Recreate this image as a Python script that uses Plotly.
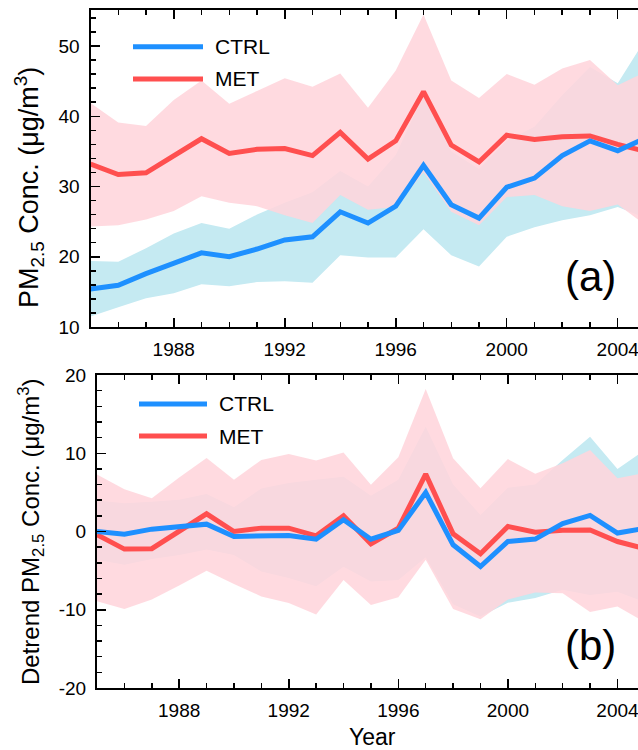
import plotly.graph_objects as go

years = list(range(1985, 2006))

# Panel (a): PM2.5 concentration
ctrl = [15.4, 15.95, 17.6, 19.15, 20.55, 20.0, 21.1, 22.4, 22.85, 26.4, 24.8,
        27.2, 33.0, 27.4, 25.5, 29.9, 31.2, 34.4, 36.5, 35.1, 36.9]
ctrl_up = [19.4, 19.3, 21.2, 23.3, 24.8, 24.0, 26.0, 27.7, 29.2, 32.2, 30.0,
           34.5, 43.0, 35.0, 32.5, 36.5, 38.5, 43.0, 47.0, 44.7, 51.0]
ctrl_lo = [11.5, 12.8, 14.1, 14.8, 16.1, 15.8, 16.4, 16.5, 16.3, 20.2, 19.9,
           19.9, 23.9, 20.2, 18.6, 22.85, 24.2, 25.2, 25.9, 27.1, 25.5]
met = [33.2, 31.7, 31.95, 34.4, 36.8, 34.7, 35.3, 35.4, 34.4, 37.7, 33.9,
       36.5, 43.5, 35.9, 33.5, 37.3, 36.7, 37.1, 37.2, 36.0, 35.0]
met_up = [41.9, 39.1, 38.6, 42.3, 45.1, 41.8, 43.6, 45.4, 44.2, 46.1, 41.2,
          46.5, 54.5, 45.1, 42.6, 46.0, 44.5, 46.8, 48.0, 44.4, 46.3]
met_lo = [24.3, 24.5, 25.3, 26.5, 28.6, 27.7, 27.2, 25.9, 24.8, 28.8, 26.7,
          27.1, 32.0, 26.4, 24.5, 28.5, 28.8, 27.2, 26.5, 27.45, 24.5]

# Panel (b): detrended PM2.5 concentration
ctrl_d = [0.0, -0.35, 0.3, 0.64, 0.94, -0.64, -0.64, -0.5, -0.98, 1.5, -0.98,
          0.13, 4.98, -1.7, -4.47, -1.28, -0.97, 1.0, 2.05, -0.2, 0.4]
ctrl_d_up = [3.96, 3.6, 3.8, 4.05, 4.8, 3.1, 5.5, 6.2, 6.6, 7.0, 4.56,
             6.6, 13.4, 6.0, 2.1, 5.6, 6.0, 9.15, 12.1, 8.0, 10.4]
ctrl_d_lo = [-3.6, -4.25, -3.5, -3.0, -2.3, -3.0, -5.1, -5.95, -7.0, -4.5, -6.4,
             -6.2, -3.3, -9.3, -10.85, -9.1, -8.5, -7.45, -8.1, -7.7, -9.0]
met_d = [-0.4, -2.25, -2.2, 0.0, 2.26, 0.0, 0.43, 0.43, -0.55, 2.0, -1.57,
         0.43, 7.33, -0.3, -2.85, 0.64, -0.08, 0.15, 0.2, -1.28, -2.2]
met_d_up = [7.3, 5.4, 4.26, 6.9, 9.4, 6.6, 9.15, 9.9, 9.07, 10.1, 5.96,
            9.5, 18.2, 9.37, 5.54, 9.25, 7.37, 8.73, 10.4, 6.8, 7.5]
met_d_lo = [-8.9, -9.9, -8.7, -6.9, -5.0, -6.7, -8.3, -9.15, -10.6, -6.2, -9.4,
            -8.4, -3.6, -9.9, -11.2, -8.7, -7.8, -7.9, -10.3, -9.6, -11.6]

series_names = ["CTRL", "MET"]
xtick_vals = [1988, 1992, 1996, 2000, 2004]
ya_tick_vals = [10, 20, 30, 40, 50]
ya_tick_text = ["10", "20", "30", "40", "50"]
yb_tick_vals = [-20, -10, 0, 10, 20]
yb_tick_text = ["-20", "-10", "0", "10", "20"]

W, H = 638, 750
BLUE = "#1E90FF"
RED = "#FF4F4F"
CYAN_FILL = "rgb(197,234,242)"
PINK_FILL = "rgba(255,212,219,0.87)"
FONT = "Liberation Sans, Arial, Helvetica, sans-serif"

fig = go.Figure()


def band(xa, ya, up, lo, color):
    fig.add_trace(go.Scatter(
        x=years + years[::-1], y=up + lo[::-1], fill="toself",
        fillcolor=color, line=dict(width=0), mode="lines",
        hoverinfo="skip", showlegend=False, xaxis=xa, yaxis=ya))


def line(xa, ya, vals, color, name):
    fig.add_trace(go.Scatter(
        x=years, y=vals, mode="lines", name=name,
        line=dict(color=color, width=5), showlegend=False,
        xaxis=xa, yaxis=ya))


# panel a
band("x", "y", ctrl_up, ctrl_lo, CYAN_FILL)
band("x", "y", met_up, met_lo, PINK_FILL)
line("x", "y", met, RED, series_names[1])
line("x", "y", ctrl, BLUE, series_names[0])
# panel b
band("x2", "y2", ctrl_d_up, ctrl_d_lo, CYAN_FILL)
band("x2", "y2", met_d_up, met_d_lo, PINK_FILL)
line("x2", "y2", met_d, RED, series_names[1])
line("x2", "y2", ctrl_d, BLUE, series_names[0])

tickfont = dict(family=FONT, size=19, color="black")


def xax(domain, rng, anchor):
    return dict(domain=domain, range=rng, anchor=anchor, showline=True,
                linecolor="black", linewidth=2, mirror="ticks",
                ticks="inside", ticklen=9, tickwidth=1.5, tickcolor="black",
                tickvals=xtick_vals, tickfont=tickfont, showgrid=False,
                zeroline=False, automargin=False, ticklabelstandoff=4,
                ticklabeloverflow="allow",
                minor=dict(dtick=1, tick0=1985, ticks="inside", ticklen=5,
                           tickwidth=1.5, tickcolor="black", showgrid=False))


def yax(domain, rng, anchor, tv, tt):
    return dict(domain=domain, range=rng, anchor=anchor, showline=True,
                linecolor="black", linewidth=2, mirror=False,
                ticks="inside", ticklen=9, tickwidth=1.5, tickcolor="black",
                tickvals=tv, ticktext=tt, tickfont=tickfont, showgrid=False,
                zeroline=False, automargin=False, ticklabelstandoff=5,
                ticklabeloverflow="allow",
                minor=dict(dtick=2, tick0=0, ticks="inside", ticklen=5,
                           tickwidth=1.5, tickcolor="black", showgrid=False))


def yright(domain, rng, anchor, over, tv):
    return dict(domain=domain, range=rng, anchor=anchor, overlaying=over,
                side="right", showline=False, ticks="inside", ticklen=9,
                tickwidth=1.5, tickcolor="black", tickvals=tv,
                showticklabels=False, showgrid=False, zeroline=False,
                automargin=False,
                minor=dict(dtick=2, tick0=0, ticks="inside", ticklen=5,
                           tickwidth=1.5, tickcolor="black", showgrid=False))


ya_dom = [1 - 327 / H, 1 - 9.5 / H]
yb_dom = [1 - 688 / H, 1 - 375 / H]
xa_dom = [90.5 / W, 1]
xb_dom = [97 / W, 1]

fig.update_layout(
    width=W, height=H, margin=dict(l=0, r=0, t=0, b=0),
    paper_bgcolor="white", plot_bgcolor="rgba(0,0,0,0)",
    showlegend=False, hovermode=False,
    xaxis=xax(xa_dom, [1985, 2004.73], "y"),
    yaxis=yax(ya_dom, [10, 55.2], "x", ya_tick_vals, ya_tick_text),
    xaxis2=xax(xb_dom, [1985, 2004.75], "y2"),
    yaxis2=yax(yb_dom, [-20, 20], "x2", yb_tick_vals, yb_tick_text),
    yaxis3=yright(ya_dom, [10, 55.2], "x", "y", ya_tick_vals),
    yaxis4=yright(yb_dom, [-20, 20], "x2", "y2", yb_tick_vals),
)

shapes = []
annotations = []


def px(x):
    return x / W


def py(y):
    return 1 - y / H


# Legends (drawn as shapes + text)
for (x0, x1, ys, tx) in [(133, 203, (46.7, 79), 213), (139, 207, (404, 436), 217)]:
    for yy, col, nm in zip(ys, [BLUE, RED], series_names):
        shapes.append(dict(type="line", xref="paper", yref="paper",
                           x0=px(x0), x1=px(x1), y0=py(yy), y1=py(yy),
                           line=dict(color=col, width=5)))
        annotations.append(dict(text=nm, xref="paper", yref="paper",
                                x=px(tx), y=py(yy), xanchor="left",
                                yanchor="middle", showarrow=False,
                                font=dict(family=FONT, size=21, color="black")))

# Panel labels
annotations.append(dict(text="(a)", xref="paper", yref="paper", x=px(590),
                        y=py(277), xanchor="center", yanchor="middle",
                        showarrow=False,
                        font=dict(family=FONT, size=42, color="black")))
annotations.append(dict(text="(b)", xref="paper", yref="paper", x=px(590),
                        y=py(645), xanchor="center", yanchor="middle",
                        showarrow=False,
                        font=dict(family=FONT, size=42, color="black")))

# Axis titles
annotations.append(dict(text="PM<sub>2.5</sub> Conc. (μg/m<sup>3</sup>)",
                        xref="paper", yref="paper", x=px(29), y=py(188),
                        xanchor="center", yanchor="middle", textangle=-90,
                        showarrow=False,
                        font=dict(family=FONT, size=27, color="black")))
annotations.append(dict(text="Detrend PM<sub>2.5</sub> Conc. (μg/m<sup>3</sup>)",
                        xref="paper", yref="paper", x=px(31), y=py(532),
                        xanchor="center", yanchor="middle", textangle=-90,
                        showarrow=False,
                        font=dict(family=FONT, size=24, color="black")))
annotations.append(dict(text="Year", xref="paper", yref="paper", x=px(372),
                        y=py(737), xanchor="center", yanchor="middle",
                        showarrow=False,
                        font=dict(family=FONT, size=23, color="black")))

fig.update_layout(shapes=shapes, annotations=annotations)

fig.write_html(
    "out.html",
    config={"displayModeBar": False, "staticPlot": True},
    post_script="document.body.style.margin='0';"
                "document.documentElement.style.overflow='hidden';",
)
